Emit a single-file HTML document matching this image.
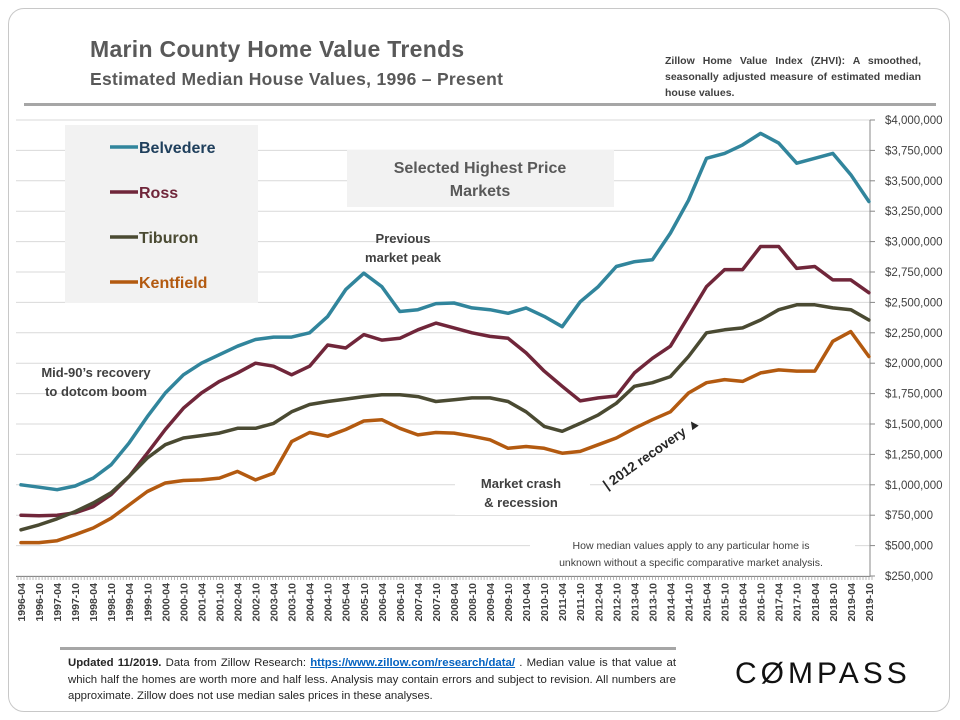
<!DOCTYPE html>
<html><head><meta charset="utf-8">
<style>
body{margin:0;background:#fff;font-family:"Liberation Sans",sans-serif;}
#wrap{position:relative;width:960px;height:720px;overflow:hidden;background:#fff;}
.card{position:absolute;left:8px;top:8px;width:940px;height:702px;border:1px solid #c8c8c8;border-radius:16px;}
.t{position:absolute;color:#595959;font-weight:bold;white-space:nowrap;}
</style></head><body>
<div id="wrap">
<div class="card"></div>
<div class="t" style="left:90px;top:36px;font-size:23px;letter-spacing:0.3px;">Marin County Home Value Trends</div>
<div class="t" style="left:90px;top:69px;font-size:17.5px;letter-spacing:0.3px;">Estimated Median House Values, 1996 – Present</div>
<div style="position:absolute;left:665px;top:53px;width:256px;font-size:10.5px;line-height:16px;color:#404040;font-weight:bold;text-align:justify;text-align-last:left;">Zillow Home Value Index (ZHVI): A smoothed, seasonally adjusted measure of estimated median house values.</div>
<div style="position:absolute;left:24px;top:103px;width:912px;height:3px;background:#a6a6a6;"></div>

<svg id="chart" width="960" height="720" style="position:absolute;left:0;top:0"></svg>

<div style="position:absolute;left:60px;top:647px;width:616px;height:3px;background:#a6a6a6;"></div>
<div style="position:absolute;left:68px;top:655px;width:608px;font-size:11.4px;line-height:16.5px;color:#262626;text-align:justify;"><b>Updated 11/2019.</b> Data from Zillow Research: <a href="#" style="color:#0563c1;font-weight:bold;">https://www.zillow.com/research/data/</a> . Median value is that value at which half the homes are worth more and half less. Analysis may contain errors and subject to revision. All numbers are approximate. Zillow does not use median sales prices in these analyses.</div>
<div style="position:absolute;left:735px;top:657px;font-size:30px;letter-spacing:4px;color:#111;">CØMPASS</div>
</div>
<script>
const labels=[];
for(let y=1996;y<=2019;y++){labels.push(y+'-04');labels.push(y+'-10');}
const yTicks=[250000,500000,750000,1000000,1250000,1500000,1750000,2000000,2250000,2500000,2750000,3000000,3250000,3500000,3750000,4000000];
const belvedere=[1000,980,960,990,1055,1165,1345,1560,1755,1905,2000,2070,2140,2195,2215,2215,2250,2385,2605,2740,2630,2425,2440,2490,2495,2455,2440,2410,2455,2385,2300,2505,2630,2795,2835,2850,3070,3340,3685,3725,3795,3890,3810,3645,3685,3725,3550,3330];
const ross=[750,745,750,770,820,920,1070,1260,1455,1630,1755,1850,1920,2000,1975,1905,1975,2150,2125,2235,2190,2205,2275,2330,2290,2250,2220,2205,2085,1935,1810,1690,1715,1730,1920,2040,2140,2385,2630,2770,2770,2960,2960,2780,2795,2685,2685,2580];
const tiburon=[630,670,720,780,850,935,1070,1220,1330,1385,1405,1425,1465,1465,1505,1600,1660,1685,1705,1725,1740,1740,1725,1685,1700,1715,1715,1685,1600,1480,1440,1505,1575,1670,1810,1840,1890,2055,2250,2275,2290,2355,2440,2480,2480,2455,2440,2355];
const kentfield=[525,525,540,590,645,725,835,945,1015,1035,1040,1055,1110,1040,1095,1355,1430,1400,1455,1525,1535,1465,1410,1430,1425,1400,1370,1300,1315,1300,1260,1275,1330,1385,1465,1535,1600,1755,1840,1865,1850,1920,1945,1935,1935,2180,2260,2055];
const seriesNames=['Belvedere','Ross','Tiburon','Kentfield'];
const svg=document.getElementById('chart');const NS='http://www.w3.org/2000/svg';
function xs(i){return 21+18.04*i;}
function ys(v){return 120+(4000000-v)/250000*30.4;}
function mk(tag,attrs,parent){const e=document.createElementNS(NS,tag);for(const k in attrs)e.setAttribute(k,attrs[k]);(parent||svg).appendChild(e);return e;}
yTicks.forEach(v=>{
 const g=mk('line',{x1:16,x2:870,y1:ys(v),y2:ys(v),stroke:'#d9d9d9','stroke-width':1});
 
 
 const tk=mk('line',{x1:870,x2:875,y1:ys(v),y2:ys(v),stroke:'#888','stroke-width':1});
 
 
 const t=mk('text',{x:885,y:ys(v)+4,'font-size':11.5,fill:'#404040','font-family':'Liberation Sans, sans-serif'});
 t.textContent='$'+v.toLocaleString('en-US');
 
 
});
const ax=mk('line',{x1:870,x2:870,y1:120,y2:577,stroke:'#888','stroke-width':1});


const bx=mk('line',{x1:16,x2:870,y1:576.5,y2:576.5,stroke:'#888','stroke-width':1});


let d='';for(let m=0;m<=284;m++){const x=(21+3.007*m-3).toFixed(1);d+='M'+x+' 576V580';}
const mt=mk('path',{d:d,stroke:'#999','stroke-width':0.7});


labels.forEach((l,i)=>{
 const t=mk('text',{x:0,y:0,'font-size':10.5,'font-weight':'bold',fill:'#404040','text-anchor':'end','font-family':'Liberation Sans, sans-serif',transform:`translate(${xs(i)+4},583) rotate(-90)`});
 t.textContent=l;
 
 
});
const wb1=mk('rect',{x:455,y:470,width:135,height:45,fill:'#fff'});


const wb2=mk('rect',{x:530,y:537,width:325,height:36,fill:'#fff'});


const colors=['#31859c','#70263a','#4a4a32','#b35a10'];
[belvedere,ross,tiburon,kentfield].forEach((s,si)=>{
 const p=s.map((v,i)=>(i?'L':'M')+xs(i).toFixed(1)+' '+ys(v*1000).toFixed(1)).join('');
 const path=mk('path',{d:p,fill:'none',stroke:colors[si],'stroke-width':3.5,'stroke-linejoin':'round','stroke-linecap':'round'});
 
 
});
const lg=mk('rect',{x:65,y:125,width:193,height:178,fill:'#f2f2f2'});


const textCols=['#1f3f5c','#70263a','#4a4a32','#b35a10'];
seriesNames.forEach((n,i)=>{
 const y=147+45*i;
 const ln=mk('line',{x1:110,x2:138,y1:y,y2:y,stroke:colors[i],'stroke-width':3.5});
 
 
 const t=mk('text',{x:139,y:y+6,'font-size':16,'font-weight':'bold',fill:textCols[i],'font-family':'Liberation Sans, sans-serif'});
 t.textContent=n;
 
 
});
const sb=mk('rect',{x:347,y:150,width:267,height:57,fill:'#f2f2f2'});


function txt(s,x,y,size,name,extra){const t=mk('text',Object.assign({x:x,y:y,'font-size':size,'font-weight':'bold',fill:'#404040','text-anchor':'middle','font-family':'Liberation Sans, sans-serif'},extra||{}));t.textContent=s;return t;}
txt('Selected Highest Price',480,173,16,'selected-markets-label',{fill:'#595959'});
txt('Markets',480,196,16,'selected-markets-label',{fill:'#595959'});
txt('Previous',403,243,13,'annotation-previous-peak');
txt('market peak',403,262,13,'annotation-previous-peak');
txt('Mid-90’s recovery',96,377,13,'annotation-mid90s');
txt('to dotcom boom',96,396,13,'annotation-mid90s');
txt('Market crash',521,488,13,'annotation-crash');
txt('& recession',521,507,13,'annotation-crash');
txt('| 2012 recovery ▲',0,0,13.5,'annotation-2012-recovery',{transform:'translate(654,457) rotate(-35)',fill:'#262626'});
txt('How  median  values  apply  to  any  particular  home  is',691,549,10.5,'annotation-median-note',{'font-weight':'normal'});
txt('unknown without a specific comparative market analysis.',691,566,10.5,'annotation-median-note',{'font-weight':'normal'});
</script>
</body></html>
